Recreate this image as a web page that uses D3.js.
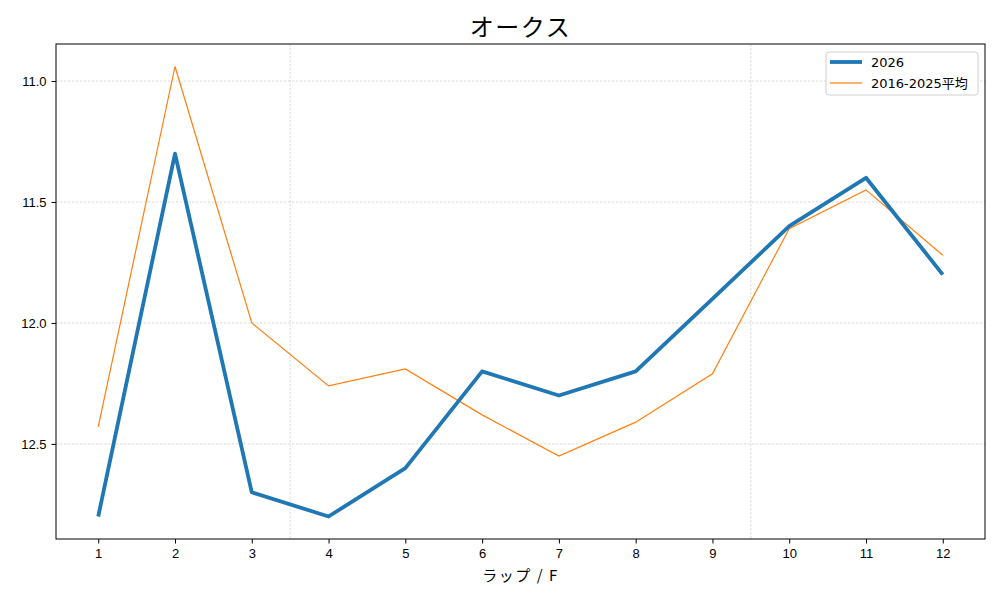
<!DOCTYPE html>
<html>
<head>
<meta charset="utf-8">
<script src="https://cdn.jsdelivr.net/npm/d3@7"></script>
<style>
  body { margin: 0; background: #fff; }
  svg { font-family: "DejaVu Sans", "Noto Sans CJK JP", sans-serif; }
</style>
</head>
<body>
<svg id="chart" width="1000" height="600"></svg>
<script>
// Lap times per furlong
const laps = [1, 2, 3, 4, 5, 6, 7, 8, 9, 10, 11, 12];
const times2026 = [12.8, 11.3, 12.7, 12.8, 12.6, 12.2, 12.3, 12.2, 11.9, 11.6, 11.4, 11.8];
const timesAvg = [12.43, 10.94, 12.0, 12.26, 12.19, 12.38, 12.55, 12.41, 12.21, 11.61, 11.45, 11.72];
const yTicks = [11.0, 11.5, 12.0, 12.5];
const sectionLines = [3.5, 9.5];
const seriesNames = ["2026", "2016-2025平均"];

const svg = d3.select("#chart");
const margin = { top: 44, right: 15, bottom: 61, left: 56 };
const width = 1000, height = 600;
const innerWidth = width - margin.left - margin.right;
const innerHeight = height - margin.top - margin.bottom;

const g = svg.append("g").attr("transform", `translate(${margin.left},${margin.top})`);

const x = d3.scaleLinear().domain([0.45, 12.55]).range([0, innerWidth]);
const allY = times2026.concat(timesAvg);
const yMin = d3.min(allY), yMax = d3.max(allY);
const pad = (yMax - yMin) * 0.05;
// inverted: faster (smaller) times at top
const y = d3.scaleLinear().domain([yMin - pad, yMax + pad]).range([0, innerHeight]);

// grid
g.selectAll(".hgrid").data(yTicks).enter().append("line")
  .attr("x1", 0).attr("x2", innerWidth)
  .attr("y1", d => y(d)).attr("y2", d => y(d))
  .attr("stroke", "#b8b8b8").attr("stroke-width", 0.5).attr("stroke-dasharray", "2.5,1.5");
g.selectAll(".vgrid").data(sectionLines).enter().append("line")
  .attr("y1", 0).attr("y2", innerHeight)
  .attr("x1", d => x(d)).attr("x2", d => x(d))
  .attr("stroke", "#b8b8b8").attr("stroke-width", 0.5).attr("stroke-dasharray", "2.5,1.5");

// axes
const xAxis = d3.axisBottom(x).tickValues(laps).tickFormat(d3.format("d")).tickSize(4.5).tickPadding(5);
const yAxis = d3.axisLeft(y).tickValues(yTicks).tickFormat(d3.format(".1f")).tickSize(4.5).tickPadding(5);
const xg = g.append("g").attr("transform", `translate(0,${innerHeight})`).call(xAxis);
const yg = g.append("g").call(yAxis);
[xg, yg].forEach(a => {
  a.select(".domain").remove();
  a.selectAll("line").attr("stroke", "#000").attr("stroke-width", 1);
  a.selectAll("text").attr("fill", "#000").attr("font-size", 13);
});

// lines
const line = d3.line().x((d, i) => x(laps[i])).y(d => y(d));
g.append("path").datum(timesAvg).attr("d", line)
  .attr("fill", "none").attr("stroke", "#ff7f0e").attr("stroke-width", 1.2);
g.append("path").datum(times2026).attr("d", line)
  .attr("fill", "none").attr("stroke", "#1f77b4").attr("stroke-width", 3.8)
  .attr("stroke-linejoin", "round");

// frame
g.append("rect").attr("width", innerWidth).attr("height", innerHeight)
  .attr("fill", "none").attr("stroke", "#000").attr("stroke-width", 1);

// title and label
svg.append("text").attr("x", margin.left + innerWidth / 2).attr("y", 36)
  .attr("text-anchor", "middle").attr("font-size", 24).attr("letter-spacing", 1.5)
  .attr("font-family", "Noto Sans CJK JP").text("オークス");
svg.append("text").attr("x", margin.left + innerWidth / 2).attr("y", 581)
  .attr("text-anchor", "middle").attr("font-size", 15).attr("letter-spacing", 1.5)
  .attr("font-family", "Noto Sans CJK JP").text("ラップ / F");

// legend
const lg = svg.append("g").attr("transform", `translate(826,52)`);
lg.append("rect").attr("width", 152).attr("height", 43).attr("rx", 3)
  .attr("fill", "#fff").attr("fill-opacity", 0.8).attr("stroke", "#d0d0d0");
const legendStyles = [
  { color: "#1f77b4", w: 3.8 },
  { color: "#ff7f0e", w: 1.2 }
];
seriesNames.forEach((name, i) => {
  const yy = 10 + i * 21;
  lg.append("line").attr("x1", 4).attr("x2", 36).attr("y1", yy).attr("y2", yy)
    .attr("stroke", legendStyles[i].color).attr("stroke-width", legendStyles[i].w);
  lg.append("text").attr("x", 45).attr("y", yy + 4.5).attr("font-size", 13).text(name);
});
</script>
</body>
</html>
